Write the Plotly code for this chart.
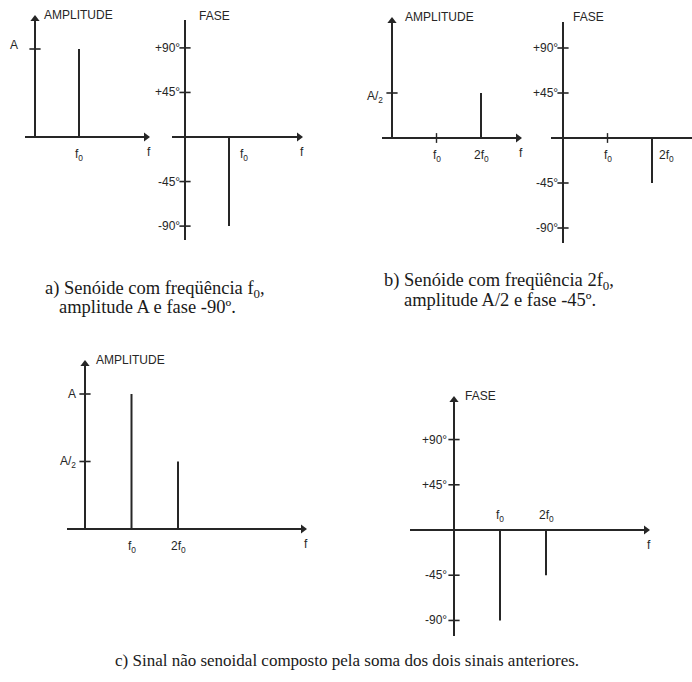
import plotly.graph_objects as go

W, H = 692, 682

# Spectral lines: frequency in multiples of f0, amplitude in multiples of A, phase in degrees
freq_a = [1]
amp_a = [1.0]
phase_a = [-90]

freq_b = [2]
amp_b = [0.5]
phase_b = [-45]

freq_c = [1, 2]
amp_c = [1.0, 0.5]
phase_c = [-90, -45]

# Axis tick values and their labels
phase_ticks = [90, 45, -45, -90]
phase_tick_labels = ["+90&#176;", "+45&#176;", "-45&#176;", "-90&#176;"]

amp_ticks_a = [1.0]
amp_tick_labels_a = ["A"]
amp_ticks_b = [0.5]
amp_tick_labels_b = ["A/<sub>2</sub>"]
amp_ticks_c = [1.0, 0.5]
amp_tick_labels_c = ["A", "A/<sub>2</sub>"]

freq_tick_labels = {1: "f<sub>0</sub>", 2: "2f<sub>0</sub>"}

# Caption lines (accented letters written as character references)
caption_texts = [
    "a) Sen&#243;ide com freq&#252;&#234;ncia f<sub>0</sub>,",
    "amplitude A e fase -90&#186;.",
    "b) Sen&#243;ide com freq&#252;&#234;ncia 2f<sub>0</sub>,",
    "amplitude A/2 e fase -45&#186;.",
    "c) Sinal n&#227;o senoidal composto pela soma dos dois sinais anteriores.",
]

# Caption placement: centre x, centre y (pixels) and font size
caption_layout = [(155, 289, 18.5), (147, 307, 18.5), (499, 281, 18.5),
                  (500, 300, 18.5), (347, 660, 17)]

INK = "#262626"
SANS = "Liberation Sans"
SERIF = "Liberation Serif"
LABEL_SIZE = 12

fig = go.Figure()
annotations = []


def add_panel(n, origin, scale, box, hline, vline, h_arrow, v_arrow,
              freqs, values, yticks, ytick_labels, title, title_shift,
              ytick_shift, flabels, f_tick_marks=(), f_label_above=False):
    ox, oy = origin
    sx, sy = scale
    L, T, R, B = box
    xs = "" if n == 1 else str(n)
    xref, yref = "x" + xs, "y" + xs

    fig.layout["xaxis" + xs] = dict(
        domain=[L / W, R / W], range=[(L - ox) / sx, (R - ox) / sx],
        visible=False, fixedrange=True, anchor=yref)
    fig.layout["yaxis" + xs] = dict(
        domain=[1 - B / H, 1 - T / H], range=[(oy - B) / sy, (oy - T) / sy],
        visible=False, fixedrange=True, anchor=xref)

    def fx(px):
        return (px - ox) / sx

    def fy(py):
        return (oy - py) / sy

    common = dict(xaxis=xref, yaxis=yref, showlegend=False, hoverinfo="skip")

    # horizontal (frequency) axis
    hx0, hx1 = hline
    end_x = hx1 - 4 if h_arrow else hx1
    fig.add_trace(go.Scatter(x=[fx(hx0), fx(end_x)], y=[0, 0], mode="lines",
                             line=dict(color=INK, width=2), **common))
    if h_arrow:
        fig.add_trace(go.Scatter(x=[fx(end_x)], y=[0], mode="markers",
                                 marker=dict(symbol="triangle-right", size=8, color=INK),
                                 cliponaxis=False, **common))
    # vertical axis
    vy0, vy1 = vline
    end_y = vy1 + 4 if v_arrow else vy1
    fig.add_trace(go.Scatter(x=[0, 0], y=[fy(vy0), fy(end_y)], mode="lines",
                             line=dict(color=INK, width=2), **common))
    if v_arrow:
        fig.add_trace(go.Scatter(x=[0], y=[fy(end_y)], mode="markers",
                                 marker=dict(symbol="triangle-up", size=8, color=INK),
                                 cliponaxis=False, **common))

    # tick marks across the vertical axis
    fig.add_trace(go.Scatter(x=[0] * len(yticks), y=yticks, mode="markers",
                             marker=dict(symbol="line-ew", size=8,
                                         line=dict(color=INK, width=1.6)),
                             cliponaxis=False, **common))
    if f_tick_marks:
        fig.add_trace(go.Scatter(x=list(f_tick_marks), y=[0] * len(f_tick_marks),
                                 mode="markers",
                                 marker=dict(symbol="line-ns", size=7,
                                             line=dict(color=INK, width=1.4)),
                                 cliponaxis=False, **common))

    # spectral lines
    sx_, sy_ = [], []
    for f, v in zip(freqs, values):
        sx_ += [f, f, None]
        sy_ += [0, v, None]
    fig.add_trace(go.Scatter(x=sx_, y=sy_, mode="lines",
                             line=dict(color=INK, width=2), **common))

    font = dict(family=SANS, size=LABEL_SIZE, color=INK)

    # axis title
    annotations.append(dict(x=0, y=fy(vy1), xref=xref, yref=yref, text=title,
                            showarrow=False, xanchor="left", yanchor="middle",
                            xshift=title_shift[0], yshift=title_shift[1], font=font))
    # vertical tick labels
    for val, lab in zip(yticks, ytick_labels):
        annotations.append(dict(x=0, y=val, xref=xref, yref=yref, text=lab,
                                showarrow=False, xanchor="right", yanchor="middle",
                                xshift=ytick_shift[0], yshift=ytick_shift[1], font=font))
    # frequency labels
    for f, (anchor, dx) in flabels.items():
        annotations.append(dict(x=f, y=0, xref=xref, yref=yref,
                                text=freq_tick_labels[f], showarrow=False,
                                xanchor=anchor, xshift=dx,
                                yanchor="bottom" if f_label_above else "top",
                                yshift=4 if f_label_above else -8, font=font))
    # "f" at the end of the frequency axis
    annotations.append(dict(x=fx(hx1), y=0, xref=xref, yref=yref, text="f",
                            showarrow=False, xanchor="center", yanchor="top",
                            xshift=-1, yshift=-6, font=font))


# a) amplitude
add_panel(1, (35, 137), (44, 88), (2, 2, 165, 172), (25, 150), (137, 15), True, True,
          freq_a, amp_a, amp_ticks_a, amp_tick_labels_a, "AMPLITUDE", (7, 0),
          (-15, 4), {1: ("center", 0)})
# a) phase
add_panel(2, (185, 137), (44, 0.99), (168, 2, 318, 250), (172, 303), (240, 20), True, False,
          freq_a, phase_a, phase_ticks, phase_tick_labels, "FASE", (12, 4),
          (-3, 0), {1: ("left", 9)})
# b) amplitude
add_panel(3, (392, 138), (44.5, 90), (340, 2, 530, 172), (382, 522), (138, 17), True, True,
          freq_b, amp_b, amp_ticks_b, amp_tick_labels_b, "AMPLITUDE", (11, 0),
          (-7, -4), {1: ("center", 0), 2: ("center", 0)}, f_tick_marks=[1])
# b) phase
add_panel(4, (563, 138), (44.5, 1.0), (525, 2, 692, 250), (551, 720), (243, 22), False, False,
          freq_b, phase_b, phase_ticks, phase_tick_labels, "FASE", (8, 5),
          (-3, 0), {1: ("center", 0), 2: ("left", 5)}, f_tick_marks=[1])
# c) amplitude
add_panel(5, (85, 529), (46.5, 135), (40, 345, 320, 562), (67, 307), (529, 360), True, True,
          freq_c, amp_c, amp_ticks_c, amp_tick_labels_c, "AMPLITUDE", (9, 0),
          (-7, 0), {1: ("center", 0), 2: ("center", 0)})
# c) phase
add_panel(6, (454, 530), (46, 1.005), (405, 385, 665, 645), (410, 650), (636, 396), True, True,
          freq_c, phase_c, phase_ticks, phase_tick_labels, "FASE", (9, 0),
          (-5, 0), {1: ("center", 0), 2: ("center", 0)}, f_label_above=True)

for text, (cx, cy, size) in zip(caption_texts, caption_layout):
    annotations.append(dict(x=cx / W, y=1 - cy / H, xref="paper", yref="paper",
                            text=text, showarrow=False, xanchor="center", yanchor="middle",
                            font=dict(family=SERIF, size=size, color="#1a1a1a")))

fig.update_layout(
    width=W, height=H,
    margin=dict(l=0, r=0, t=0, b=0),
    paper_bgcolor="white", plot_bgcolor="rgba(0,0,0,0)",
    annotations=annotations,
)

fig.write_html("out.html", config={"displayModeBar": False})
